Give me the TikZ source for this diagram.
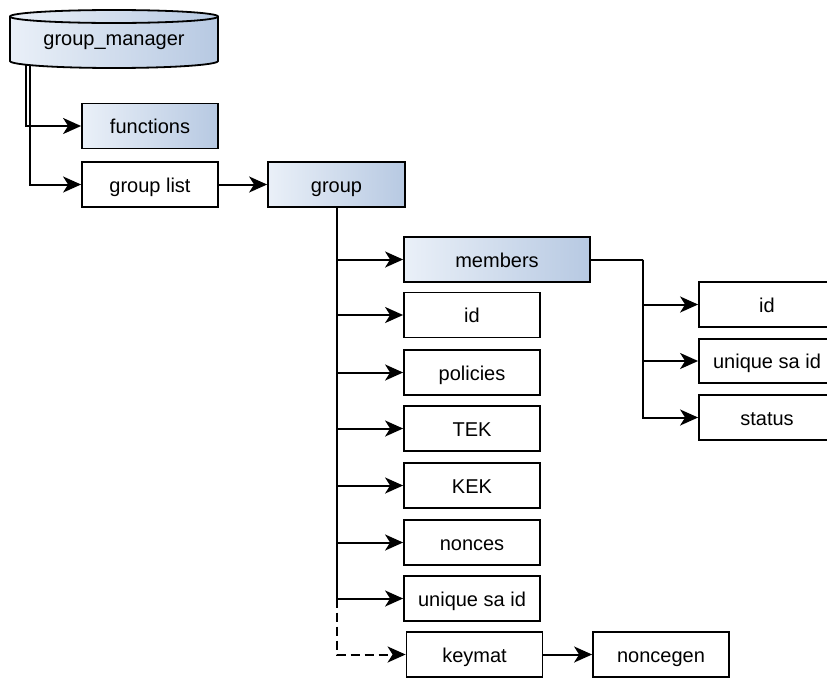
\documentclass[tikz,border=0pt]{standalone}
\usepackage{fontspec}
\setmainfont{Liberation Sans}
\usetikzlibrary{arrows.meta}
\definecolor{cLight}{RGB}{234,240,248}
\definecolor{cDark}{RGB}{183,201,226}
\begin{document}
\begin{tikzpicture}[x=1pt,y=-1pt,
  txt/.style={font=\fontsize{20}{24}\selectfont, text height=17pt, text depth=2pt, inner sep=0pt},
  box/.style={txt, draw, line width=1.8pt, minimum width=136pt, minimum height=45pt},
  gbox/.style={box, left color=cLight, right color=cDark},
  conn/.style={line width=2pt, -{Stealth[length=18pt,width=16pt,inset=5pt]}},
  dconn/.style={conn, dash pattern=on 9pt off 5pt},
]
\useasboundingbox (0,0) rectangle (827,678);
\clip (0,0) rectangle (827,678);

% cylinder group_manager
\path[draw, line width=1.8pt, left color=cLight, right color=cDark]
  (10,16.5) -- (10,61) arc[start angle=180, end angle=0, x radius=104, y radius=7]
  -- (218,16.5) arc[start angle=360, end angle=180, x radius=104, y radius=6.5] -- cycle;
\draw[line width=1.8pt] (10,16.5) arc[start angle=180, end angle=0, x radius=104, y radius=6.5];
\node[txt] (gm) at (114,38) {group\_manager};
\coordinate (gmA) at (26,65);
\coordinate (gmB) at (29.5,65.5);

% boxes
\node[gbox] (func) at (150,126) {functions};
\node[box] (glist) at (150,184.5) {group list};
\node[gbox, minimum width=137pt] (grp) at (336.5,184.5) {group};
\node[gbox, minimum width=186pt] (mem) at (497,259.5) {members};
\node[box] (gid) at (472,315) {id};
\node[box] (pol) at (472,372.5) {policies};
\node[box] (tek) at (472,428.5) {TEK};
\node[box] (kek) at (472,485.5) {KEK};
\node[box] (non) at (472,542.5) {nonces};
\node[box] (usa) at (472,598.5) {unique sa id};
\node[box] (km) at (474.5,654.5) {keymat};
\node[box] (ng) at (661,654.5) {noncegen};
\node[box] (mid) at (767,304.5) {id};
\node[box, minimum height=44pt] (musa) at (767,361) {unique sa id};
\node[box] (mst) at (767,417.5) {status};

% connectors
\draw[conn] (gmA) |- (func.west);
\draw[conn] (gmB) |- (glist.west);
\draw[conn] (glist.east) -- (grp.west);
\draw[conn] (grp.south) |- (mem.west);
\draw[conn] (grp.south) |- (gid.west);
\draw[conn] (grp.south) |- (pol.west);
\draw[conn] (grp.south) |- (tek.west);
\draw[conn] (grp.south) |- (kek.west);
\draw[conn] (grp.south) |- (non.west);
\draw[conn] (grp.south) |- (usa.west);
\coordinate (dstart) at (grp.south |- usa.west);
\draw[dconn] (dstart) |- (km.west);
\draw[conn] (km.east) -- (ng.west);
\coordinate (mbr) at (643,259.5);
\draw[line width=2pt] (mem.east) -- (mbr);
\draw[conn] (mbr) |- (mid.west);
\draw[conn] (mbr) |- (musa.west);
\draw[conn] (mbr) |- (mst.west);
\end{tikzpicture}
\end{document}
